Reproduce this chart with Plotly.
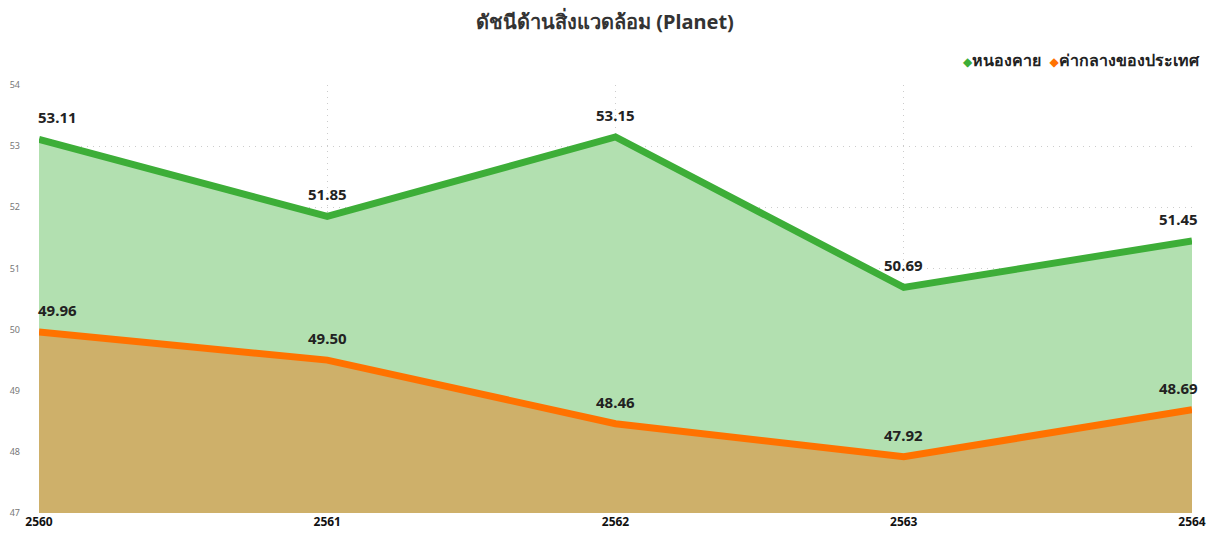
import plotly.graph_objects as go

years = [2560, 2561, 2562, 2563, 2564]
nongkhai = [53.11, 51.85, 53.15, 50.69, 51.45]
national = [49.96, 49.50, 48.46, 47.92, 48.69]
series_names = ["หนองคาย", "ค่ากลางของประเทศ"]

green_line = "#3DAE38"
green_fill = "#B2E0B0"
orange_line = "#FF7200"
orange_fill = "#CEB06A"

label_font = {"family": "Noto Sans, DejaVu Sans, sans-serif", "size": 15, "color": "#222222"}

fig = go.Figure()

for vals, lc, fc in [(nongkhai, green_line, green_fill), (national, orange_line, orange_fill)]:
    fig.add_trace(
        go.Scatter(
            x=years,
            y=vals,
            mode="lines",
            fill="tozeroy",
            fillcolor=fc,
            line={"color": lc, "width": 7},
            showlegend=False,
            hoverinfo="x+y",
        )
    )

# data labels
for vals in [nongkhai, national]:
    for i, (yr, v) in enumerate(zip(years, vals)):
        if i == 0:
            anchor, shift = "left", -3
        elif i == len(years) - 1:
            anchor, shift = "right", 8
        else:
            anchor, shift = "center", 0
        fig.add_annotation(
            x=yr,
            y=v,
            text=f"<b>{v:.2f}</b>",
            showarrow=False,
            xanchor=anchor,
            xshift=shift,
            yanchor="bottom",
            yshift=10,
            font=label_font,
        )

# legend drawn as text with diamond glyphs
legend_text = "  ".join(
    f"<span style='color:{c};font-size:12px'>◆</span><b>{n}</b>"
    for n, c in zip(series_names, [green_line, orange_line])
)
fig.add_annotation(
    x=1,
    xref="paper",
    xanchor="right",
    xshift=10,
    y=1 + (85 - 60) / (533 - 85 - 20),
    yref="paper",
    yanchor="middle",
    text=legend_text,
    showarrow=False,
    font={"size": 16, "color": "#222222"},
)

grid = {"showgrid": True, "gridcolor": "#CCCCCC", "griddash": "1px,5px", "gridwidth": 1}

fig.update_xaxes(
    range=[2560, 2564],
    tickvals=years,
    ticktext=[f"<b>{y}</b>" for y in years],
    tickfont={"size": 12, "color": "#111111"},
    zeroline=False,
    showline=False,
    ticks="",
    automargin=False,
    **grid,
)
fig.update_yaxes(
    range=[47, 54],
    dtick=1,
    tickfont={"size": 9, "color": "#777777"},
    zeroline=False,
    ticks="",
    ticklabelstandoff=18,
    automargin=False,
    **grid,
)

fig.update_layout(
    width=1210,
    height=533,
    plot_bgcolor="white",
    paper_bgcolor="white",
    font={"family": "Noto Sans, DejaVu Sans, sans-serif"},
    title={
        "text": "<b>ดัชนีด้านสิ่งแวดล้อม (Planet)</b>",
        "x": 0.5,
        "xanchor": "center",
        "y": 0.958,
        "yanchor": "middle",
        "font": {"size": 20, "color": "#333333"},
    },
    showlegend=False,
    margin={"l": 39, "r": 18, "t": 85, "b": 20, "autoexpand": False},
)

# page body has a default 8px margin; drop it so the figure fills the window
fig.write_html(
    "out.html",
    config={"displayModeBar": False},
    post_script="document.body.style.margin='0';",
)
